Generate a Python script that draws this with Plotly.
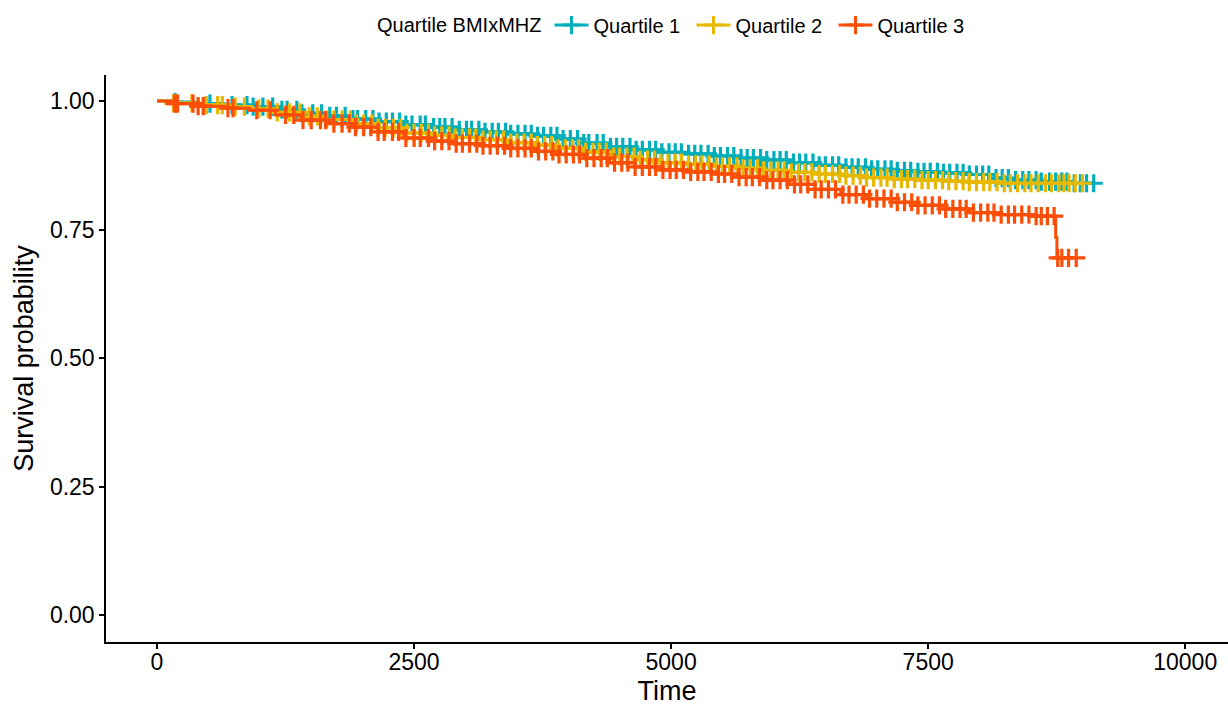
import numpy as np
import plotly.graph_objects as go

# ---------------- data ----------------
groups = ["Quartile 1", "Quartile 2", "Quartile 3"]
colors = ["#00AFBB", "#E7B800", "#FC4E07"]

q1_time = [0, 150, 400, 650, 900, 1150, 1400, 1650, 1900, 2150, 2400, 2650, 2900, 3150, 3400,
           3650, 3900, 4150, 4400, 4650, 4900, 5150, 5400, 5650, 5900, 6150, 6400, 6650, 6900,
           7150, 7400, 7650, 7900, 8100, 8300, 8600, 8900]
q1_surv = [1.000, 0.998, 0.995, 0.992, 0.989, 0.983, 0.976, 0.971, 0.965, 0.960, 0.954, 0.949,
           0.944, 0.940, 0.936, 0.932, 0.926, 0.918, 0.911, 0.905, 0.900, 0.897, 0.893, 0.889,
           0.885, 0.880, 0.875, 0.871, 0.867, 0.864, 0.862, 0.860, 0.857, 0.850, 0.846, 0.843,
           0.840]
q1_censor = [175, 515, 730, 875, 935, 1030, 1125, 1215, 1265, 1360, 1410, 1515, 1600, 1680, 1745,
             1830, 1905, 1950, 2030, 2100, 2160, 2230, 2290, 2360, 2420, 2480, 2560, 2610, 2690,
             2750, 2800, 2870, 2940, 3010, 3060, 3130, 3190, 3260, 3320, 3390, 3440, 3510, 3580,
             3640, 3700, 3760, 3830, 3890, 3950, 4020, 4090, 4150, 4200, 4280, 4340, 4410, 4470,
             4530, 4600, 4660, 4720, 4790, 4850, 4910, 4980, 5040, 5100, 5170, 5230, 5290, 5360,
             5420, 5480, 5550, 5610, 5680, 5740, 5800, 5870, 5930, 6000, 6060, 6120, 6190, 6250,
             6310, 6380, 6440, 6500, 6570, 6630, 6700, 6760, 6820, 6890, 6950, 7010, 7080, 7140,
             7200, 7270, 7330, 7400, 7460, 7520, 7590, 7650, 7710, 7780, 7840, 7900, 7970, 8030,
             8090, 8160, 8220, 8280, 8350, 8420, 8480, 8550, 8600, 8680, 8740, 8800, 8850, 8920,
             8980, 9040, 9110]

q2_time = [0, 150, 400, 650, 900, 1150, 1400, 1650, 1900, 2150, 2400, 2650, 2900, 3150, 3400,
           3650, 3900, 4150, 4400, 4650, 4900, 5150, 5400, 5650, 5900, 6150, 6400, 6650, 6900,
           7150, 7400, 7650, 7900, 8200]
q2_surv = [1.000, 0.996, 0.992, 0.989, 0.985, 0.978, 0.970, 0.964, 0.956, 0.948, 0.938, 0.933,
           0.929, 0.925, 0.919, 0.914, 0.908, 0.901, 0.892, 0.886, 0.880, 0.877, 0.873, 0.869,
           0.865, 0.861, 0.858, 0.855, 0.851, 0.848, 0.846, 0.844, 0.842, 0.840]
q2_censor = [160, 190, 340, 480, 590, 635, 760, 850, 990, 1080, 1170, 1290, 1390, 1480, 1560,
             1650, 1720, 1800, 1880, 1940, 2010, 2090, 2150, 2220, 2300, 2370, 2430, 2500, 2570,
             2640, 2700, 2770, 2840, 2900, 2970, 3040, 3100, 3170, 3240, 3300, 3370, 3440, 3500,
             3570, 3640, 3700, 3770, 3840, 3900, 3970, 4040, 4100, 4170, 4240, 4300, 4370, 4440,
             4500, 4570, 4640, 4700, 4770, 4840, 4900, 4970, 5040, 5100, 5170, 5240, 5300, 5370,
             5440, 5500, 5570, 5640, 5700, 5770, 5840, 5900, 5970, 6040, 6100, 6170, 6240, 6300,
             6370, 6440, 6500, 6570, 6640, 6700, 6770, 6840, 6900, 6970, 7040, 7100, 7170, 7240,
             7300, 7370, 7440, 7500, 7570, 7640, 7700, 7770, 7840, 7900, 7970, 8040, 8100, 8170,
             8240, 8300, 8370, 8440, 8500, 8570, 8640, 8700, 8770, 8820, 8870, 8930, 9000]

q3_time = [0, 150, 400, 650, 900, 1150, 1400, 1650, 1900, 2150, 2400, 2650, 2900, 3150, 3400,
           3650, 3900, 4150, 4400, 4650, 4900, 5150, 5400, 5650, 5900, 6150, 6400, 6650, 6900,
           7150, 7400, 7650, 7900, 8200, 8500, 8740, 8752]
q3_surv = [1.000, 0.995, 0.990, 0.986, 0.982, 0.973, 0.963, 0.956, 0.949, 0.940, 0.928, 0.922,
           0.917, 0.913, 0.908, 0.902, 0.896, 0.889, 0.880, 0.872, 0.866, 0.862, 0.858, 0.852,
           0.846, 0.838, 0.828, 0.818, 0.810, 0.803, 0.797, 0.790, 0.783, 0.779, 0.776, 0.735,
           0.695]
q3_censor = [170, 200, 350, 400, 450, 690, 740, 970, 1100, 1250, 1330, 1420, 1500, 1590, 1640,
             1720, 1800, 1870, 1930, 2010, 2080, 2150, 2210, 2290, 2350, 2420, 2500, 2560, 2640,
             2700, 2770, 2840, 2910, 2970, 3040, 3110, 3170, 3240, 3310, 3380, 3440, 3510, 3580,
             3640, 3710, 3780, 3850, 3910, 3980, 4050, 4110, 4180, 4250, 4320, 4380, 4450, 4520,
             4580, 4650, 4720, 4790, 4850, 4920, 4990, 5050, 5120, 5190, 5260, 5320, 5390, 5460,
             5520, 5590, 5660, 5730, 5790, 5860, 5930, 5990, 6060, 6130, 6200, 6260, 6330, 6400,
             6460, 6530, 6600, 6670, 6730, 6800, 6870, 6930, 7000, 7070, 7140, 7200, 7270, 7340,
             7400, 7470, 7540, 7610, 7670, 7740, 7810, 7870, 7940, 8010, 8080, 8140, 8210, 8280,
             8340, 8410, 8480, 8550, 8600, 8660, 8725, 8760, 8800, 8865, 8940]

x_ticks = [0, 2500, 5000, 7500, 10000]
y_ticks = [0.00, 0.25, 0.50, 0.75, 1.00]

legend_title = "Quartile BMIxMHZ"

# ---------------- figure ----------------
FONT = "Liberation Sans, Arial, sans-serif"
series = [
    (q1_time, q1_surv, q1_censor),
    (q2_time, q2_surv, q2_censor),
    (q3_time, q3_surv, q3_censor),
]

fig = go.Figure()
for name, col, (t, s, c) in zip(groups, colors, series):
    t = np.asarray(t, float)
    s = np.asarray(s, float)
    c = np.asarray(c, float)
    # step value at each censoring time
    idx = np.searchsorted(t, c, side="right") - 1
    cs = s[idx]
    # extend the curve to the last follow-up time
    tx = np.append(t, max(t[-1], c.max()))
    sx = np.append(s, s[-1])
    fig.add_trace(go.Scatter(x=tx, y=sx, mode="lines", line=dict(color=col, width=3, shape="hv"),
                             legendgroup=name, showlegend=False, hoverinfo="skip"))
    fig.add_trace(go.Scatter(x=c, y=cs, mode="markers",
                             marker=dict(symbol="cross-thin", size=13, color=col,
                                         line=dict(color=col, width=3.2)),
                             legendgroup=name, showlegend=False, hoverinfo="skip"))
    # legend entry (line + cross)
    fig.add_trace(go.Scatter(x=[None], y=[None], mode="lines+markers", name=name,
                             legendgroup=name,
                             line=dict(color=col, width=3),
                             marker=dict(symbol="cross-thin", size=13, color=col,
                                         line=dict(color=col, width=3))))

axis_common = dict(showgrid=False, zeroline=False, showline=True, linecolor="black", linewidth=1.5,
                   ticks="outside", ticklen=5, tickwidth=1.5, tickcolor="black",
                   tickfont=dict(family=FONT, size=23, color="black"), mirror=False)

fig.update_xaxes(range=[-496, 10416], tickvals=x_ticks, tickformat="d", ticklabelstandoff=-6,
                 title=dict(text="Time", font=dict(family=FONT, size=27, color="black"), standoff=8),
                 **axis_common)
fig.update_yaxes(range=[-0.0525, 1.0506], tickvals=y_ticks, tickformat=".2f",
                 title=dict(text="Survival probability", font=dict(family=FONT, size=27, color="black"),
                            standoff=8),
                 **axis_common)

fig.update_layout(
    width=1228, height=706,
    margin=dict(l=106, r=0, t=75, b=64),
    paper_bgcolor="white", plot_bgcolor="white",
    font=dict(family=FONT, color="black"),
    legend=dict(orientation="h", x=0.5076, xanchor="center", y=1.088, yanchor="middle",
                title=dict(text=legend_title, font=dict(family=FONT, size=20, color="black")),
                font=dict(family=FONT, size=20, color="black"),
                itemwidth=34, entrywidth=93, tracegroupgap=0),
)

fig.write_html("out.html")
